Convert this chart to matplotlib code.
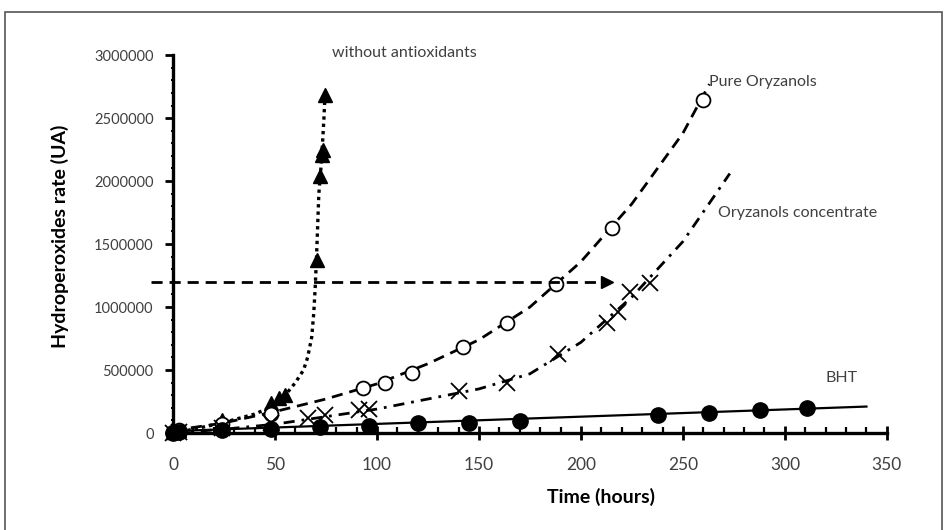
import matplotlib
matplotlib.use("Agg")
from matplotlib import pyplot as plt
from matplotlib.patches import Rectangle
from matplotlib.ticker import MultipleLocator

plt.rcParams['font.family'] = ['Lato', 'DejaVu Sans']

# --- measured points (time in hours, hydroperoxides in UA) ---
no_ax_t = [0, 3, 24, 48, 52, 55, 70.5, 72, 73, 73.3, 74.5]
no_ax_v = [10000, 20000, 100000, 240000, 280000, 300000, 1370000, 2040000, 2210000, 2250000, 2680000]
no_ax_line_t = [0, 10, 24, 40, 50, 56, 60, 64, 66, 68, 69, 69.7, 70.3, 71.5, 72.5, 73.3, 74, 74.5]
no_ax_line_v = [0, 30000, 80000, 150000, 220000, 320000, 400000, 500000, 600000, 760000,
                950000, 1150000, 1370000, 1900000, 2100000, 2300000, 2500000, 2680000]

pure_t = [0, 3, 24, 48, 93, 104, 117, 142, 164, 188, 215, 260]
pure_v = [10000, 20000, 70000, 150000, 360000, 400000, 480000, 680000, 870000, 1180000, 1630000, 2640000]
pure_line_t = [0, 25, 50, 75, 100, 125, 150, 175, 200, 225, 250, 263]
pure_line_v = [20000, 80000, 170000, 270000, 390000, 550000, 740000, 1000000, 1360000, 1820000, 2380000, 2770000]

conc_t = [0, 3, 24, 48, 66, 74.5, 91, 96, 140, 164, 189, 213, 218, 224, 234]
conc_v = [0, 10000, 40000, 80000, 120000, 140000, 180000, 190000, 330000, 400000, 630000, 870000, 960000, 1120000, 1190000]
conc_line_t = [0, 25, 50, 75, 100, 125, 150, 175, 200, 225, 250, 273]
conc_line_v = [0, 30000, 70000, 130000, 190000, 270000, 350000, 470000, 720000, 1080000, 1520000, 2060000]

bht_t = [0, 3, 24, 48, 72, 96, 120, 145, 170, 238, 263, 288, 311]
bht_v = [0, 10000, 20000, 30000, 50000, 55000, 80000, 80000, 95000, 140000, 160000, 180000, 200000]
bht_line_t = [0, 340]
bht_line_v = [15000, 210000]

ref_level = 1200000
ref_t = [-11, 211]
arrow_t = 213

fig = plt.figure(figsize=(9.48, 5.30), dpi=100)
fig.patches.append(Rectangle((0.005, -0.01), 0.989, 0.987, transform=fig.transFigure,
                             fill=False, edgecolor='#555555', linewidth=1.2))
ax = fig.add_axes([0.1825, 0.183, 0.753, 0.713])

# trend lines
ax.plot(no_ax_line_t, no_ax_line_v, color='black', linestyle=(0, (1, 1.2)), lw=2.4)
ax.plot(pure_line_t, pure_line_v, color='black', linestyle=(0, (4, 2.5)), lw=2)
ax.plot(conc_line_t, conc_line_v, color='black', linestyle=(0, (4, 2.5, 1, 2.5)), lw=2)
ax.plot(bht_line_t, bht_line_v, color='black', linestyle='-', lw=1.6)

# markers
ax.plot(no_ax_t, no_ax_v, linestyle='none', marker='^', ms=10, color='black', clip_on=False)
ax.plot(pure_t, pure_v, linestyle='none', marker='o', ms=10, mfc='white', mec='black', mew=1.3, clip_on=False)
ax.plot(conc_t, conc_v, linestyle='none', marker='x', ms=11, mec='black', mew=1.3, clip_on=False)
ax.plot(bht_t, bht_v, linestyle='none', marker='o', ms=11, color='black', clip_on=False)

# horizontal reference arrow
ax.plot(ref_t, [ref_level, ref_level], color='black', linestyle=(0, (4, 2.5)), lw=2, clip_on=False)
ax.plot([arrow_t], [ref_level], linestyle='none', marker='>', ms=9, color='black')

# curve labels
lab = dict(color='#404040', fontsize=11.5)
ax.text(78, 3020000, 'without antioxidants', va='center', ha='left', **lab)
ax.text(263, 2790000, 'Pure Oryzanols', va='center', ha='left', **lab)
ax.text(267, 1750000, 'Oryzanols concentrate', va='center', ha='left', **lab)
ax.text(320, 440000, 'BHT', va='center', ha='left', **lab)

ax.set_xlim(0, 350)
ax.set_ylim(0, 3000000)
ax.xaxis.set_major_locator(MultipleLocator(50))
ax.xaxis.set_minor_locator(MultipleLocator(10))
ax.yaxis.set_major_locator(MultipleLocator(500000))
ax.yaxis.set_minor_locator(MultipleLocator(100000))
ax.ticklabel_format(axis='y', style='plain')

for s in ['top', 'right']:
    ax.spines[s].set_visible(False)
for s in ['left', 'bottom']:
    ax.spines[s].set_linewidth(2.4)

ax.tick_params(axis='x', which='major', direction='inout', length=10, width=2,
               labelsize=12.5, labelcolor='#404040', pad=12)
ax.tick_params(axis='x', which='minor', direction='in', length=4, width=1.6)
ax.tick_params(axis='y', which='major', direction='out', length=6, width=2,
               labelsize=10.5, labelcolor='#404040', pad=8)
ax.tick_params(axis='y', which='minor', direction='inout', length=3, width=1.4)

ax.set_xlabel('Time (hours)', fontsize=14, fontweight='bold')
ax.set_ylabel('Hydroperoxides rate (UA)', fontsize=14, fontweight='bold')
ax.xaxis.set_label_coords(0.6, -0.169)
ax.xaxis.label.set_va('center')
ax.yaxis.set_label_coords(-0.158, 0.52)
ax.yaxis.label.set_va('center')

fig.savefig('out.png', dpi=100)
